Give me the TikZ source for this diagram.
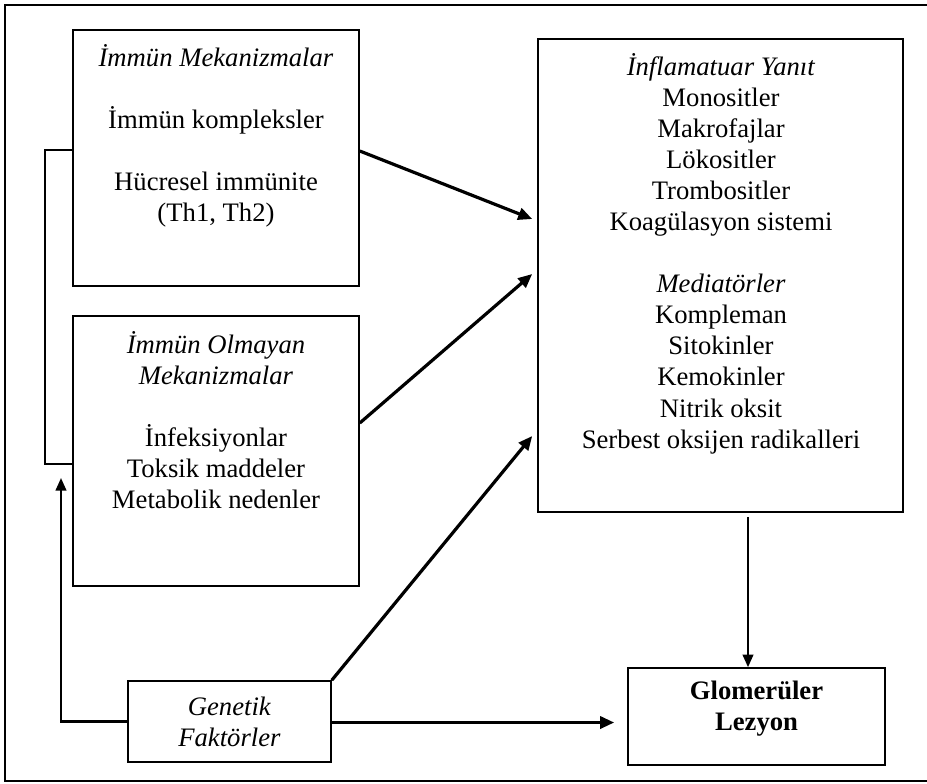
\documentclass[tikz,border=0pt]{standalone}
\usepackage{fontspec}
\setmainfont{Liberation Serif}
\usetikzlibrary{arrows.meta,calc}

\tikzset{
  box/.style={draw, line width=1.2pt, inner sep=0pt},
  txt/.style={align=center, inner sep=0pt, font=\fontsize{20}{23.3}\selectfont},
  link/.style={line width=2.4pt, -{Triangle[length=10.5pt,width=9pt]}},
  thinlink/.style={line width=1.6pt, -{Triangle[length=9.5pt,width=8pt]}},
  bracket/.style={line width=1.1pt},
  frame/.style={line width=2.2pt}
}
\newcommand{\gap}{\\[23.3pt]}

\begin{document}
\begin{tikzpicture}[x=0.75pt, y=-0.75pt]
\useasboundingbox (0,0) rectangle (927,783);
\draw[frame] (5,5) rectangle (945,781);

%Boxes
\node[box, minimum width=214.5pt, minimum height=192pt] (immun) at (216,158) {};
\node[box, minimum width=214.5pt, minimum height=202.5pt] (olmayan) at (216,451) {};
\node[box, minimum width=273.75pt, minimum height=354.75pt] (inflam) at (720.5,275.5) {};
\node[box, txt, minimum width=152.25pt, minimum height=60.75pt] (genetik) at (229.5,721.5) {\textit{Genetik}\\ \textit{Faktörler}};
\node[box, minimum width=192.75pt, minimum height=72.75pt] (lezyon) at (756.5,716.5) {};

%Texts
\node[txt] (immunt) at (216,136) {\textit{İmmün Mekanizmalar}\gap İmmün kompleksler\gap Hücresel immünite\\ (Th1, Th2)};
\node[txt] (olmayant) at (216,420) {\textit{İmmün Olmayan}\\ \textit{Mekanizmalar}\gap İnfeksiyonlar\\ Toksik maddeler\\ Metabolik nedenler};
\node[txt] (inflamt) at (721,253.5) {\textit{İnflamatuar Yanıt}\\ Monositler\\ Makrofajlar\\ Lökositler\\ Trombositler\\ Koagülasyon sistemi\gap \textit{Mediatörler}\\ Kompleman\\ Sitokinler\\ Kemokinler\\ Nitrik oksit\\ Serbest oksijen radikalleri};
\node[txt] (lezyont) at (756.5,709) {\textbf{Glomerüler}\\ \textbf{Lezyon}};

%Lines
\draw[link] ($(immun.east)+(0,-7)$) -- ($(inflam.west)+(-5,-56.5)$);
\draw[link] ($(olmayan.east)+(0,-28)$) -- ($(inflam.west)+(-5,-1.5)$);
\draw[link] (genetik.north east) -- ($(inflam.west)+(-5,160.5)$);
\draw[link] ($(genetik.east)+(0,1)$) -- ($(lezyon.west)+(-13,6)$);

\coordinate (down) at ($(inflam.south)+(27.5,4)$);
\draw[thinlink] (down) -- (down |- lezyon.north);

\coordinate (up) at (61,478);
\draw[thinlink] (genetik.west) -| (up);

\draw[bracket] ($(immun.west)+(0,-8)$) -- ++(-27,0) |- ($(olmayan.west)+(0,13)$);
\end{tikzpicture}
\end{document}
